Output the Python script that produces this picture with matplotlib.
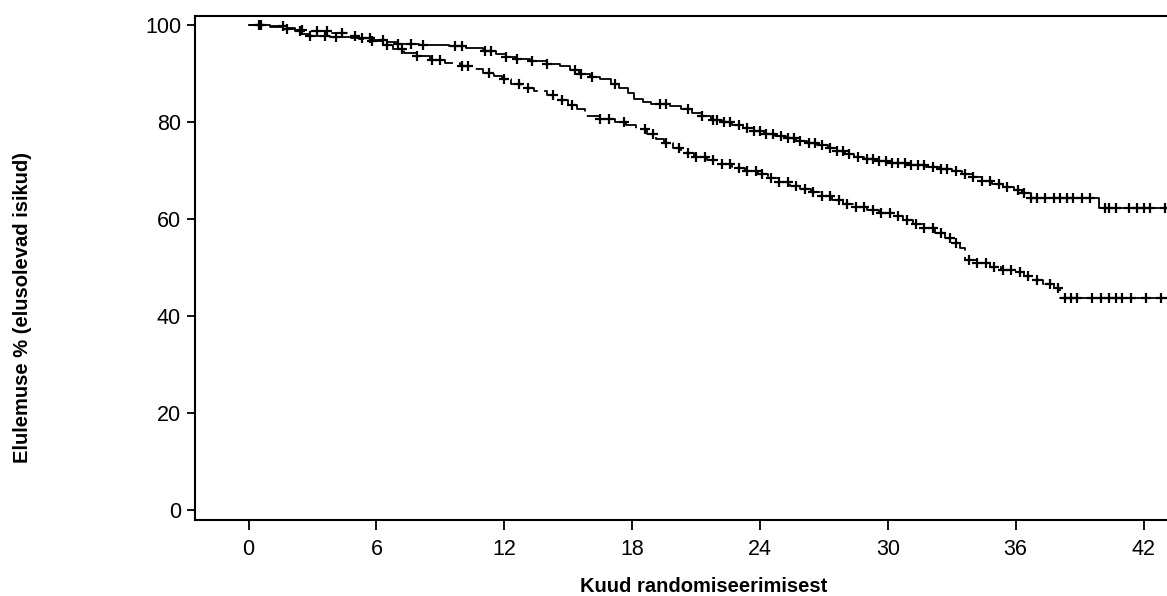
import matplotlib
matplotlib.use("Agg")
import matplotlib.pyplot as plt
import numpy as np

plt.rcParams['font.family'] = ['Liberation Sans', 'DejaVu Sans']

# solid curve (upper): step times [months] and survival [%]
solid_t = [0, 1.0, 1.8, 2.2, 2.5, 2.9, 3.8, 4.8, 5.8, 6.5, 7.0, 8.0, 9.4, 10.2,
           11.0, 11.6, 12.1, 12.6, 13.2, 14.0, 14.6, 15.1, 15.5, 16.0, 16.5, 17.0, 17.4,
           17.8, 18.1, 18.5, 18.9, 19.8, 20.3, 20.8, 21.3, 21.7, 22.2, 22.7, 23.2, 23.7,
           24.2, 24.7, 25.2, 25.7, 26.2, 26.7, 27.2, 27.6, 28.0, 28.4, 28.9, 29.5, 30.2,
           31.0, 31.8, 32.5, 33.0, 33.5, 34.0, 34.4, 34.9, 35.4, 35.9, 36.3, 36.7, 39.9]
solid_s = [100, 99.8, 99.4, 98.8, 98.2, 97.8, 97.6, 97.3, 97.0, 96.6, 96.2, 95.9, 95.6,
           95.2, 94.7, 94.1, 93.5, 93.0, 92.5, 92.0, 91.5, 90.8, 90.0, 89.4, 88.8,
           87.9, 87.0, 86.0, 84.8, 84.2, 83.8, 83.4, 82.8, 81.9, 81.2, 80.5, 80.0, 79.4,
           78.8, 78.2, 77.6, 77.2, 76.8, 76.2, 75.7, 75.2, 74.7, 74.0, 73.4, 72.8, 72.3,
           71.9, 71.5, 71.1, 70.8, 70.4, 69.9, 69.3, 68.6, 67.9, 67.3, 66.7, 66.0, 65.3,
           64.4, 62.3]
solid_cens = [0.6, 1.6, 2.4, 2.9, 3.6, 4.1, 5.3, 5.7, 6.3, 7.0, 7.6, 8.2, 9.7, 10.0, 11.1,
              11.4, 12.1, 12.6, 13.3, 14.0, 15.3, 15.6, 16.1, 17.2, 19.3, 19.6, 20.6, 21.3,
              21.8, 22.0, 22.3, 22.6, 23.0, 23.4, 23.7, 24.0, 24.3, 24.6, 25.0, 25.3, 25.6,
              25.9, 26.3, 26.6, 26.9, 27.3, 27.6, 27.9, 28.2, 28.6, 29.0, 29.3, 29.6, 29.9,
              30.2, 30.5, 30.8, 31.1, 31.4, 31.7, 32.1, 32.5, 32.8, 33.2, 33.6, 34.0, 34.4,
              34.8, 35.2, 35.6, 36.1, 36.4, 36.7, 37.0, 37.4, 37.8, 38.1, 38.4, 38.7, 39.1,
              39.5, 40.2, 40.4, 40.7, 41.3, 41.7, 42.0, 42.3, 43.0, 43.3]

# dashed curve (lower)
dash_t = [0, 1.0, 1.6, 2.2, 2.8, 3.8, 4.6, 5.2, 5.8, 6.3, 6.8, 7.3, 7.9, 8.5, 9.2, 9.9,
          10.5, 11.0, 11.5, 11.9, 12.3, 12.8, 13.4, 14.0, 14.5, 15.0, 15.4, 15.8, 16.5, 17.2,
          17.7, 18.2, 18.7, 19.1, 19.5, 19.9, 20.3, 20.9, 21.5, 22.1, 22.7, 23.3, 23.9, 24.4,
          24.9, 25.4, 25.9, 26.4, 26.9, 27.4, 27.9, 28.4, 29.0, 29.6, 30.2, 30.7, 31.2, 31.7,
          32.2, 32.7, 33.1, 33.4, 33.6, 34.2, 34.8, 35.3, 35.9, 36.4, 36.8, 37.3, 37.8, 38.1]
dash_s = [100, 99.7, 99.3, 99.0, 98.7, 98.4, 97.8, 97.2, 96.7, 96.0, 95.0, 94.3, 93.6,
          92.9, 92.2, 91.6, 91.0, 90.2, 89.5, 88.8, 87.8, 87.1, 86.4, 85.6, 84.6, 83.6, 82.6,
          81.2, 80.6, 80.0, 79.3, 78.5, 77.6, 76.6, 75.6, 74.6, 73.6, 72.8, 72.1, 71.3, 70.6,
          69.9, 69.2, 68.4, 67.6, 66.9, 66.2, 65.5, 64.8, 64.0, 63.2, 62.5, 61.9, 61.3, 60.6,
          59.8, 59.0, 58.1, 57.1, 56.1, 55.0, 54.0, 51.6, 51.0, 50.2, 49.5, 49.0, 48.3, 47.4,
          46.6, 45.8, 43.7]
dash_cens = [0.5, 1.8, 2.5, 3.2, 3.7, 4.4, 5.0, 5.8, 6.5, 7.2, 7.9, 8.6, 9.0, 10.0, 10.3,
             11.3, 12.0, 12.7, 13.1, 14.3, 14.7, 15.2, 16.5, 16.9, 17.6, 18.6, 19.0, 19.6,
             20.2, 20.6, 21.0, 21.4, 21.8, 22.2, 22.6, 23.0, 23.4, 23.8, 24.1, 24.5, 24.9,
             25.3, 25.7, 26.1, 26.5, 26.9, 27.3, 27.7, 28.1, 28.5, 28.9, 29.3, 29.7, 30.1,
             30.5, 30.9, 31.3, 31.7, 32.1, 32.5, 32.9, 33.2, 33.8, 34.2, 34.6, 35.0, 35.4,
             35.8, 36.2, 36.6, 37.0, 37.6, 38.0, 38.3, 38.6, 38.9, 39.6, 40.0, 40.4, 40.7,
             41.0, 41.4, 42.1, 42.8, 43.3]


def step_at(t, s, x):
    idx = np.searchsorted(t, x, side='right') - 1
    return np.asarray(s)[idx]


fig = plt.figure(figsize=(11.67, 5.96), dpi=100)
ax = fig.add_axes([0.167, 0.1275, 0.845, 0.8455])

end_t = 43.4
ax.step(solid_t + [end_t], solid_s + [solid_s[-1]], where='post', color='black', lw=1.3)
ax.step(dash_t + [end_t], dash_s + [dash_s[-1]], where='post', color='black', lw=1.3,
        linestyle=(0, (9, 3.5)))
ax.plot(solid_cens, step_at(solid_t, solid_s, solid_cens), '+', color='black',
        markersize=6.5, mew=1.6)
ax.plot(dash_cens, step_at(dash_t, dash_s, dash_cens), '+', color='black',
        markersize=6.5, mew=1.6)

ax.set_xlim(-2.52, 43.76)
ax.set_ylim(-2.06, 101.86)
ax.set_xticks([0, 6, 12, 18, 24, 30, 36, 42])
ax.set_yticks([0, 20, 40, 60, 80, 100])
ax.tick_params(axis='both', labelsize=15.5, width=1.3, color='black')
ax.tick_params(axis='x', length=7, pad=7)
ax.tick_params(axis='y', length=6, pad=4)
ax.spines['right'].set_visible(False)
for sp in ['left', 'bottom', 'top']:
    ax.spines[sp].set_linewidth(1.5)

ax.set_xlabel('Kuud randomiseerimisest', fontsize=14.5, fontweight='bold')
ax.set_ylabel('Elulemuse % (elusolevad isikud)', fontsize=14.5, fontweight='bold')
ax.xaxis.set_label_coords(0.516, -0.113)
ax.yaxis.set_label_coords(-0.165, 0.4226)

fig.savefig('out.png', dpi=100)
